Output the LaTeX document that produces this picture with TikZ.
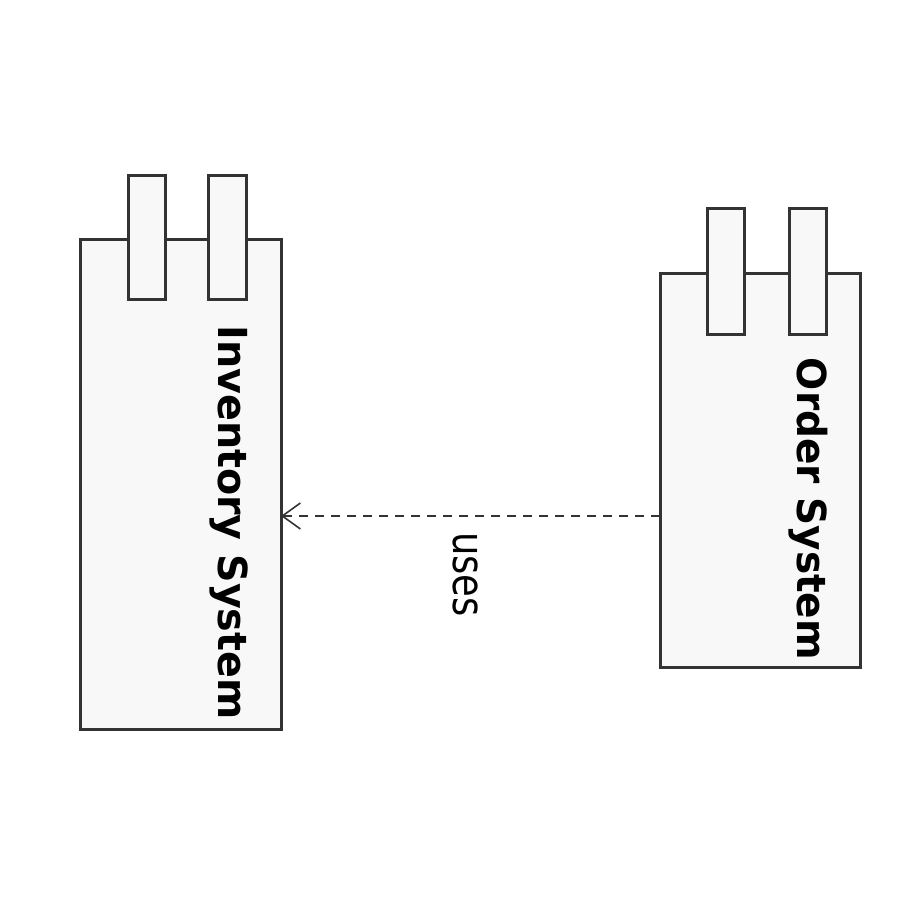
\documentclass[tikz,border=0pt]{standalone}
\usepackage{fontspec}
\usepackage{graphicx}
\setmainfont{DejaVu Sans}
\usetikzlibrary{arrows.meta}
\definecolor{boxfill}{HTML}{F8F8F8}
\definecolor{edge}{HTML}{333333}
\tikzset{
  comp/.style={draw=edge, fill=boxfill, line width=3pt},
  tab/.style={draw=edge, fill=boxfill, line width=3pt},
  lbl/.style={rotate=-90, anchor=base, inner sep=0pt, text=black},
  dep/.style={draw=edge, line width=2pt, dash pattern=on 9pt off 7pt,
    -{Straight Barb[length=18pt, width=26pt, line width=1.6pt]}}
}
\begin{document}
\begin{tikzpicture}[x=1pt,y=1pt]
\useasboundingbox (0,0) rectangle (900,900);
% Inventory System
\path[comp] (80,170) rectangle (281,660);
\path[tab] (128,600) rectangle (165,724);
\path[tab] (208,600) rectangle (246,724);
\coordinate (inv) at (281,384);
\node[lbl] (invlabel) at (218,377.5) {\fontsize{40}{40}\selectfont\bfseries\scalebox{0.99}[1]{Inventory System}};
% Order System
\path[comp] (660,232) rectangle (860,626);
\path[tab] (707,565) rectangle (744,691);
\path[tab] (789,565) rectangle (826,691);
\coordinate (ord) at (660,384);
\node[lbl] (ordlabel) at (797,391) {\fontsize{40}{40}\selectfont\bfseries\scalebox{0.975}[1]{Order System}};
% dependency
\draw[dep] (ord) -- (inv);
\node[lbl] (uses) at (453,325.5) {\fontsize{44}{44}\selectfont\scalebox{0.84}[1]{uses}};
\end{tikzpicture}
\end{document}
